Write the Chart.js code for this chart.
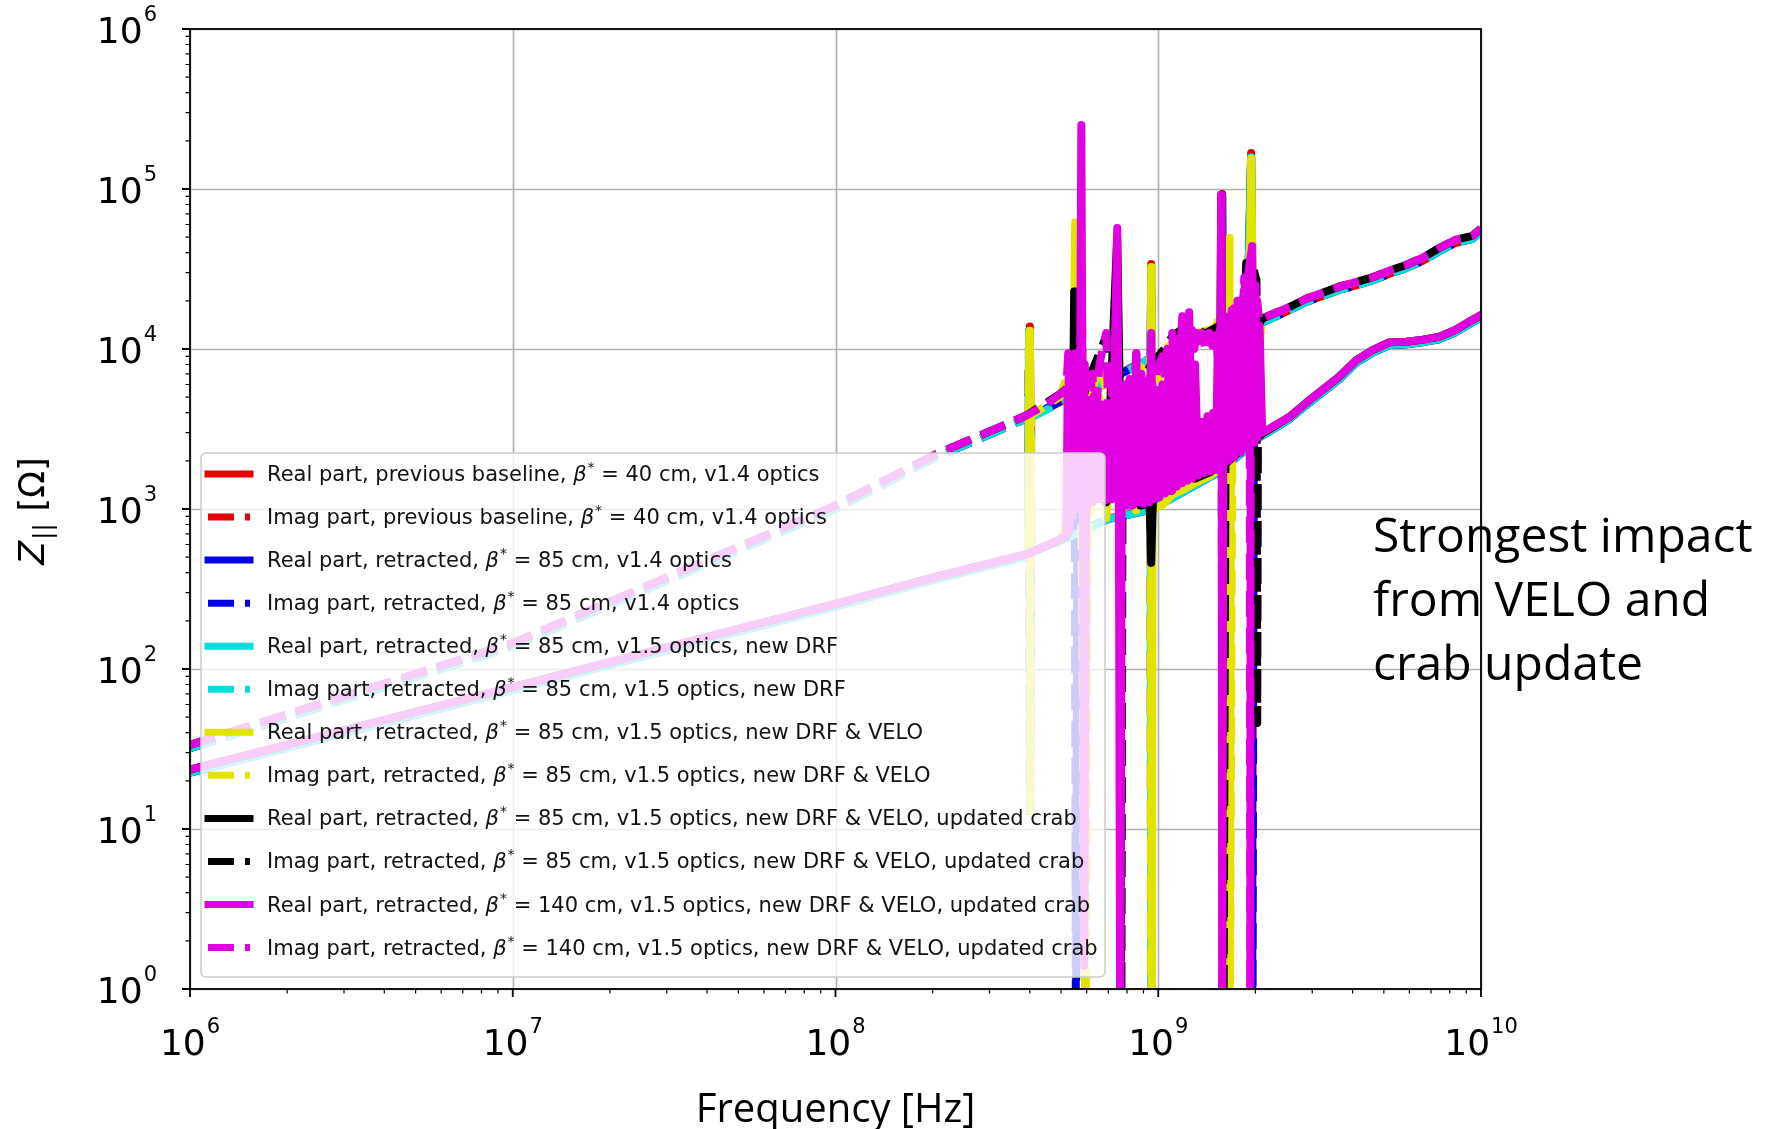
<!DOCTYPE html>
<html>
<head>
<meta charset="utf-8">
<script src="https://cdn.jsdelivr.net/npm/chart.js@4.4.1/dist/chart.umd.min.js"></script>
<style>
  html, body { margin: 0; padding: 0; background: #fff; }
  canvas { display: block; }
</style>
</head>
<body>
<canvas id="chart" width="1769" height="1129"></canvas>
<script>
// smooth parts of the impedance curves (Hz, Ohm)
const fLow = [1e6, 1e7, 1e8, 2e8, 3.8e8];
const reLow = [23.5, 77, 255, 372, 515];
const imLow = [33.5, 145, 1050, 2150, 3750];
const reLowOld = [22.5, 74, 246, 360, 500];
const imLowOld = [32, 139, 1005, 2060, 3600];

const fHigh = [2.55e9, 2.87e9, 3.63e9, 4.1e9, 4.6e9, 5.2e9, 5.86e9, 6.56e9, 7.4e9, 8.3e9, 9.4e9, 1e10];
const reHigh = [3760, 4600, 6700, 8500, 9800, 11000, 11100, 11400, 11900, 13100, 15200, 16300];
const imHigh = [18300, 20600, 24500, 26200, 28000, 30900, 33500, 37000, 42600, 48000, 51000, 56500];
const reHighOld = [3650, 4450, 6450, 8200, 9450, 10600, 10700, 11000, 11500, 12650, 14700, 15700];
const imHighOld = [17500, 19700, 23400, 25000, 26800, 29500, 32000, 35400, 40700, 45900, 48800, 54000];

// resonance band, [MHz, Ohm]
const reBase = [[395, 510], [400, 13800], [405, 540], [500, 640], [700, 870], [940, 990], [951, 34000], [962, 1010],
  [1200, 1290], [1565, 1740], [1578, 93000], [1592, 1790], [1850, 2330], [1940, 168000], [1965, 2680], [2099, 2880]];
const imBase = [[395, 3650], [399, 12500], [401, 12], [404, 3750], [600, 5700], [800, 7400], [946, 8800], [951, 0.5],
  [957, 8400], [1300, 11400], [1600, 13400], [1630, 0.3], [1660, 13000], [1900, 15300], [1938, 60000], [1950, 0.3],
  [1975, 14400], [2099, 14600]];
const reRetr = [[395, 510], [398, 13000], [403, 535], [500, 635], [700, 865], [940, 985], [951, 32000], [962, 1005],
  [1200, 1285], [1565, 1735], [1578, 90000], [1592, 1785], [1850, 2320], [1940, 158000], [1965, 2670], [2099, 2870]];
const imRetr14 = [[395, 3650], [398, 12000], [400, 14], [403, 3750], [550, 5300], [556, 0.3], [562, 5200], [800, 7300],
  [946, 8800], [951, 0.3], [957, 8300], [1300, 11300], [1570, 13200], [1585, 0.3], [1600, 13000], [1900, 15200],
  [1938, 55000], [1958, 0.3], [1980, 14300], [2099, 14600]];
const imRetr15 = [[395, 3650], [399, 12000], [401, 13], [404, 3750], [800, 7300], [946, 8800], [951, 0.3], [957, 8300],
  [1300, 11300], [1600, 13200], [1625, 0.3], [1650, 13000], [1900, 15200], [1938, 55000], [1960, 15000], [2099, 14600]];
const reVelo = [[395, 515], [400, 13000], [405, 545], [494, 630], [530, 880], [545, 4000], [553, 61700], [560, 3000],
  [575, 1200], [598, 880], [625, 1000], [657, 5000], [690, 880], [730, 4000], [762, 930], [800, 3000], [855, 980],
  [924, 4500], [945, 1000], [951, 32500], [955, 0.3], [960, 980], [1044, 1080], [1105, 1230], [1204, 1330],
  [1320, 1480], [1440, 1600], [1545, 1780], [1640, 1980], [1659, 49400], [1664, 0.3], [1680, 2080], [1800, 2280],
  [1900, 2580], [1940, 155000], [1990, 2750], [2099, 2950]];
const imVelo = [[395, 3750], [399, 12800], [401, 13], [404, 3850], [494, 5000], [540, 8000], [560, 12000], [575, 5000],
  [596, 0.3], [610, 4500], [657, 8000], [700, 5000], [760, 7000], [830, 6000], [900, 8000], [945, 9000], [951, 0.3],
  [958, 4000], [1044, 10000], [1200, 12000], [1500, 13500], [1630, 20000], [1665, 0.3], [1700, 9000], [1850, 14000],
  [1950, 60000], [1990, 5000], [2099, 15500]];
const reCrab = [[395, 525], [494, 640], [519, 680], [530, 4000], [540, 900], [549, 22900], [552, 1000], [566, 5000],
  [580, 1100], [598, 950], [640, 5000], [690, 1100], [746, 50000], [770, 1100], [815, 4000], [880, 1050], [940, 1080],
  [951, 460], [962, 1100], [1030, 5000], [1100, 1300], [1187, 12000], [1300, 1550], [1450, 1700], [1550, 1950],
  [1567, 92000], [1573, 1800], [1590, 1850], [1700, 2100], [1800, 2300], [1873, 34500], [1900, 2500], [1990, 2700],
  [2099, 2950]];
const imCrab = [[395, 3900], [494, 5200], [519, 5600], [545, 9000], [570, 4000], [600, 6000], [690, 12000], [730, 4000],
  [760, 6000], [768, 0.3], [776, 5000], [870, 6000], [951, 8000], [1044, 10000], [1105, 12000], [1230, 14000],
  [1400, 12500], [1545, 14000], [1585, 13000], [1592, 0.3], [1620, 13000], [1800, 17000], [1954, 34000], [2015, 27000],
  [2026, 46], [2040, 14000], [2099, 15500]];
const re140 = [[395, 525], [494, 640], [519, 690], [524, 5200], [530, 720], [536, 6000], [542, 900], [548, 6500],
  [555, 1000], [562, 5500], [570, 1100], [577.7, 251000], [584, 1200], [590, 1.4], [598, 1000], [612, 4800], [625, 1100],
  [640, 5500], [657, 1150], [675, 4500], [690, 1140], [705, 4000], [718, 1150], [746.5, 57000], [755, 1200], [762.7, 0.3],
  [770, 1100], [785, 4000], [800, 1050], [815, 5000], [831, 1050], [855, 9400], [870, 1100], [886, 5000], [900, 1080],
  [920, 4500], [938, 1100], [951, 12600], [965, 1150], [985, 5000], [1007, 1180], [1030, 6000], [1050, 1250],
  [1075, 7000], [1100, 1300], [1120, 9000], [1140, 1380], [1160, 11000], [1185, 1450], [1210, 12000], [1230, 1500],
  [1247, 17000], [1275, 1550], [1300, 8000], [1330, 1620], [1360, 3500], [1390, 1680], [1420, 3800], [1450, 1720],
  [1480, 4000], [1510, 1760], [1530, 12000], [1548, 2000], [1567, 91700], [1573, 1800], [1578, 0.3], [1590, 1900],
  [1620, 15000], [1650, 2000], [1690, 17500], [1720, 2100], [1760, 20000], [1800, 2250], [1840, 23000], [1873, 2400],
  [1900, 30000], [1954, 44000], [1980, 2600], [2000, 25000], [2030, 2800], [2060, 14000], [2099, 3000]];
const im140 = [[395, 3900], [450, 4500], [494, 5200], [519, 5600], [526, 9400], [532, 2500], [540, 9000], [546, 2000],
  [553, 9400], [560, 2200], [566, 8500], [572, 2500], [580, 20000], [586, 3000], [592, 8000], [600, 4000], [612, 4800],
  [625, 7000], [640, 3500], [657, 8000], [690, 12600], [700, 4000], [715, 6400], [730, 3000], [746, 4500], [760, 5500],
  [775, 3500], [790, 6000], [802, 3000], [815, 6500], [831, 3500], [855, 9400], [870, 4000], [886, 7000], [905, 3500],
  [925, 6000], [951, 7000], [970, 5000], [990, 7500], [1007, 8000], [1030, 9000], [1044, 7000], [1066, 10000],
  [1081, 6000], [1105, 12600], [1121, 6000], [1145, 13000], [1161, 7000], [1187, 16000], [1204, 8000], [1230, 14000],
  [1247, 9000], [1274, 13100], [1292, 10000], [1320, 12600], [1345, 10000], [1369, 12600], [1400, 10000], [1440, 12600],
  [1470, 10500], [1500, 13000], [1530, 9000], [1550, 13000], [1601, 14000], [1635, 9000], [1659, 16000], [1695, 10000],
  [1720, 18000], [1756, 12000], [1781, 20000], [1820, 14000], [1847, 28000], [1873, 16000], [1900, 23000], [1920, 10000],
  [1927, 0.3], [1935, 12000], [1954, 30000], [1983, 16000], [2026, 20000], [2055, 15000], [2099, 15500]];

const labels = [
  'Real part, previous baseline, β* = 40 cm, v1.4 optics',
  'Imag part, previous baseline, β* = 40 cm, v1.4 optics',
  'Real part, retracted, β* = 85 cm, v1.4 optics',
  'Imag part, retracted, β* = 85 cm, v1.4 optics',
  'Real part, retracted, β* = 85 cm, v1.5 optics, new DRF',
  'Imag part, retracted, β* = 85 cm, v1.5 optics, new DRF',
  'Real part, retracted, β* = 85 cm, v1.5 optics, new DRF & VELO',
  'Imag part, retracted, β* = 85 cm, v1.5 optics, new DRF & VELO',
  'Real part, retracted, β* = 85 cm, v1.5 optics, new DRF & VELO, updated crab',
  'Imag part, retracted, β* = 85 cm, v1.5 optics, new DRF & VELO, updated crab',
  'Real part, retracted, β* = 140 cm, v1.5 optics, new DRF & VELO, updated crab',
  'Imag part, retracted, β* = 140 cm, v1.5 optics, new DRF & VELO, updated crab'
];
const colors = ['#e60000', '#e60000', '#0000e6', '#0000e6', '#00dede', '#00dede',
  '#e3e300', '#e3e300', '#000000', '#000000', '#e000e0', '#e000e0'];
const resonances = [reBase, imBase, reRetr, imRetr14, reRetr, imRetr15, reVelo, imVelo, reCrab, imCrab, re140, im140];

const xTickExp = [6, 7, 8, 9, 10];
const yTickExp = [0, 1, 2, 3, 4, 5, 6];
const note = ['Strongest impact', 'from VELO and', 'crab update'];

const DASH = [26, 11];
const LINE_W = 8;

function buildSeries(i) {
  const imag = i % 2 === 1;
  const old = i < 6;
  const low = imag ? (old ? imLowOld : imLow) : (old ? reLowOld : reLow);
  const high = imag ? (old ? imHighOld : imHigh) : (old ? reHighOld : reHigh);
  const pts = fLow.map((f, k) => ({ x: f, y: low[k] }));
  resonances[i].forEach(([mhz, z]) => pts.push({ x: mhz * 1e6, y: z }));
  fHigh.forEach((f, k) => pts.push({ x: f, y: high[k] }));
  return pts;
}

const datasets = labels.map((label, i) => ({
  label,
  data: buildSeries(i),
  borderColor: colors[i],
  borderWidth: LINE_W,
  borderDash: i % 2 ? DASH : [],
  borderCapStyle: i % 2 ? 'butt' : 'square',
  borderJoinStyle: 'round',
  pointRadius: 0,
  tension: 0,
  fill: false,
  clip: 0,
  order: labels.length - 1 - i
}));

function powerLabel(ctx, exp, x, baseY, align) {
  ctx.font = '36px "DejaVu Sans"';
  const wb = ctx.measureText('10').width;
  ctx.font = '21px "DejaVu Sans"';
  const ws = ctx.measureText(String(exp)).width;
  const total = wb + 1 + ws;
  const left = align === 'right' ? x - total : x - total / 2;
  ctx.textAlign = 'left';
  ctx.textBaseline = 'alphabetic';
  ctx.font = '36px "DejaVu Sans"';
  ctx.fillText('10', left, baseY);
  ctx.font = '21px "DejaVu Sans"';
  ctx.fillText(String(exp), left + wb + 1, baseY - 22);
}

function legendText(ctx, text, x, y) {
  const [pre, post] = text.split('β*');
  const font = '21px "DejaVu Sans"';
  ctx.font = font;
  ctx.fillText(pre, x, y);
  x += ctx.measureText(pre).width;
  ctx.font = 'italic 21px "DejaVu Sans"';
  ctx.fillText('β', x, y);
  x += ctx.measureText('β').width + 1;
  ctx.font = '14px "DejaVu Sans"';
  ctx.fillText('*', x, y - 9);
  x += ctx.measureText('*').width;
  ctx.font = font;
  ctx.fillText(post, x, y);
}

const axesPlugin = {
  id: 'axesPlugin',
  beforeDatasetsDraw(chart) {
    const { ctx, chartArea: a, scales: { x, y } } = chart;
    ctx.save();
    ctx.strokeStyle = '#b0b0b0';
    ctx.lineWidth = 1.6;
    ctx.beginPath();
    xTickExp.forEach(e => {
      const px = Math.round(x.getPixelForValue(10 ** e)) + 0.5;
      ctx.moveTo(px, a.top); ctx.lineTo(px, a.bottom);
    });
    yTickExp.forEach(e => {
      const py = Math.round(y.getPixelForValue(10 ** e)) + 0.5;
      ctx.moveTo(a.left, py); ctx.lineTo(a.right, py);
    });
    ctx.stroke();
    ctx.restore();
  },
  afterDraw(chart) {
    const { ctx, chartArea: a, scales: { x, y } } = chart;
    ctx.save();

    // spines
    ctx.strokeStyle = '#000';
    ctx.lineWidth = 1.8;
    ctx.strokeRect(a.left, a.top, a.right - a.left, a.bottom - a.top);

    // major and minor ticks
    ctx.beginPath();
    xTickExp.forEach(e => {
      const px = x.getPixelForValue(10 ** e);
      ctx.moveTo(px, a.bottom); ctx.lineTo(px, a.bottom + 8);
    });
    yTickExp.forEach(e => {
      const py = y.getPixelForValue(10 ** e);
      ctx.moveTo(a.left, py); ctx.lineTo(a.left - 8, py);
    });
    ctx.stroke();
    ctx.lineWidth = 1.2;
    ctx.beginPath();
    for (let e = 6; e < 10; e++) {
      for (let k = 2; k <= 9; k++) {
        const px = x.getPixelForValue(k * 10 ** e);
        ctx.moveTo(px, a.bottom); ctx.lineTo(px, a.bottom + 4.5);
      }
    }
    for (let e = 0; e < 6; e++) {
      for (let k = 2; k <= 9; k++) {
        const py = y.getPixelForValue(k * 10 ** e);
        ctx.moveTo(a.left, py); ctx.lineTo(a.left - 4.5, py);
      }
    }
    ctx.stroke();

    // tick labels
    ctx.fillStyle = '#000';
    xTickExp.forEach(e => powerLabel(ctx, e, x.getPixelForValue(10 ** e), a.bottom + 66, 'center'));
    yTickExp.forEach(e => powerLabel(ctx, e, a.left - 33, y.getPixelForValue(10 ** e) + 14, 'right'));

    // axis titles
    ctx.font = '40px "Open Sans"';
    ctx.textAlign = 'center';
    ctx.fillText('Frequency [Hz]', (a.left + a.right) / 2, 1122);

    ctx.save();
    ctx.translate(44, 511);
    ctx.rotate(-Math.PI / 2);
    ctx.textAlign = 'left';
    ctx.font = 'italic 35px "DejaVu Sans"';
    const wZ = ctx.measureText('Z').width;
    ctx.font = '24px "DejaVu Sans"';
    const wSub = ctx.measureText('||').width;
    ctx.font = '35px "DejaVu Sans"';
    const wRest = ctx.measureText(' [Ω]').width;
    let tx = -(wZ + wSub + 2 + wRest) / 2;
    ctx.font = 'italic 35px "DejaVu Sans"';
    ctx.fillText('Z', tx, 0);
    tx += wZ + 1;
    ctx.font = '24px "DejaVu Sans"';
    ctx.fillText('||', tx, 7);
    tx += wSub + 1;
    ctx.font = '35px "DejaVu Sans"';
    ctx.fillText(' [Ω]', tx, 0);
    ctx.restore();

    // legend box
    const box = { x: 201, y: 453, w: 904, h: 524 };
    ctx.beginPath();
    ctx.roundRect(box.x, box.y, box.w, box.h, 5);
    ctx.fillStyle = 'rgba(255,255,255,0.8)';
    ctx.fill();
    ctx.strokeStyle = '#cccccc';
    ctx.lineWidth = 1.5;
    ctx.stroke();

    chart.data.datasets.forEach((ds, i) => {
      const ry = 474 + i * 43.05;
      ctx.beginPath();
      ctx.strokeStyle = ds.borderColor;
      ctx.lineWidth = 7;
      ctx.setLineDash(ds.borderDash);
      ctx.lineCap = ds.borderDash.length ? 'butt' : 'square';
      ctx.moveTo(208, ry);
      ctx.lineTo(250, ry);
      ctx.stroke();
      ctx.setLineDash([]);
      ctx.fillStyle = '#111';
      ctx.textAlign = 'left';
      legendText(ctx, ds.label, 267, ry + 7);
    });

    // annotation
    ctx.fillStyle = '#000';
    ctx.font = '48px "Open Sans"';
    ctx.textAlign = 'left';
    note.forEach((line, k) => ctx.fillText(line, 1373, 552 + k * 64));

    ctx.restore();
  }
};

new Chart(document.getElementById('chart'), {
  type: 'line',
  data: { datasets },
  options: {
    responsive: false,
    animation: false,
    devicePixelRatio: 1,
    events: [],
    layout: { padding: { left: 190, top: 29, right: 288, bottom: 140 } },
    scales: {
      x: { type: 'logarithmic', min: 1e6, max: 1e10, display: false },
      y: { type: 'logarithmic', min: 1, max: 1e6, display: false }
    },
    plugins: { legend: { display: false }, tooltip: { enabled: false } }
  },
  plugins: [axesPlugin]
});
</script>
</body>
</html>
